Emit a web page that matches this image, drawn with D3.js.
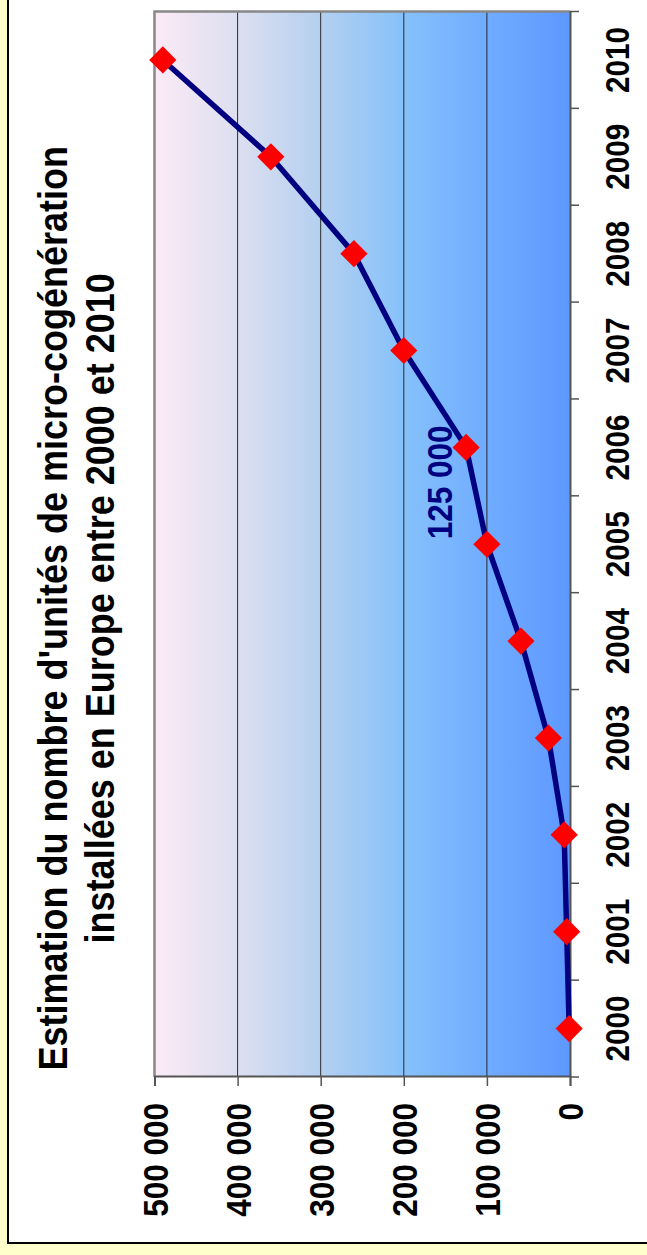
<!DOCTYPE html>
<html>
<head>
<meta charset="utf-8">
<script src="https://cdn.jsdelivr.net/npm/d3@7"></script>
<style>
  html, body { margin: 0; padding: 0; background: #FFFFCC; }
  svg { display: block; }
  text { font-family: "Liberation Sans", Arial, sans-serif; font-weight: bold; }
</style>
</head>
<body>
<svg id="chart" width="647" height="1255"></svg>
<script>
// Estimated installed micro-CHP units in Europe, 2000–2010
const years = ["2000", "2001", "2002", "2003", "2004", "2005", "2006", "2007", "2008", "2009", "2010"];
const units = [1000, 4000, 7000, 26000, 59000, 100000, 125000, 200000, 260000, 360000, 490000];
const valueTicks = [0, 100000, 200000, 300000, 400000, 500000];
const titleLines = [
  "Estimation du nombre d'unités de micro-cogénération",
  "installées en Europe entre 2000 et 2010"
];
const calloutYear = "2006";
const calloutValue = 125000;

const W = 647, H = 1255;
const svg = d3.select("#chart");

// page frame: pale yellow with a white panel
svg.append("rect").attr("width", W).attr("height", H).attr("fill", "#FFFFCC");
svg.append("rect")
  .attr("x", 8).attr("y", -10).attr("width", 700).attr("height", 1253)
  .attr("fill", "#FFFFFF").attr("stroke", "#000").attr("stroke-width", 2);

// the chart is laid out landscape and turned a quarter turn
const g = svg.append("g").attr("transform", `translate(0,${H}) rotate(-90)`);

const plot = { left: 178, right: 1243.5, top: 154.5, bottom: 570 };
const sx = 0.9; // horizontal text squeeze

const x = d3.scaleBand().domain(years).range([plot.left, plot.right]).padding(0);
const y = d3.scaleLinear().domain([0, 500000]).range([plot.bottom, plot.top]);
const fmt = v => d3.format(",")(v).replace(/,/g, " ");

// plot background gradient
const defs = svg.append("defs");
const grad = defs.append("linearGradient").attr("id", "bg")
  .attr("x1", 0).attr("y1", 0).attr("x2", 0).attr("y2", 1);
[[0, "#FCEAF6"], [0.2, "#DCDFF0"], [0.4, "#B4D0F0"], [0.6, "#86C1FB"], [0.8, "#70ACFF"], [1, "#5E98FF"]]
  .forEach(([o, c]) => grad.append("stop").attr("offset", o).attr("stop-color", c));

g.append("rect")
  .attr("x", plot.left).attr("y", plot.top)
  .attr("width", plot.right - plot.left).attr("height", plot.bottom - plot.top)
  .attr("fill", "url(#bg)");

// gridlines
g.append("g").selectAll("line")
  .data(valueTicks.filter(v => v > 0 && v < 500000))
  .join("line")
  .attr("x1", plot.left).attr("x2", plot.right)
  .attr("y1", d => y(d)).attr("y2", d => y(d))
  .attr("stroke", "#2a2a2a").attr("stroke-width", 1);

// plot border (top and right)
g.append("path")
  .attr("d", `M${plot.left},${plot.top}H${plot.right}V${plot.bottom}`)
  .attr("fill", "none").attr("stroke", "#888").attr("stroke-width", 2.5);

// value axis
const yAxis = g.append("g").attr("transform", `translate(${plot.left},0)`)
  .call(d3.axisLeft(y).tickValues(valueTicks).tickSize(9).tickFormat(fmt));
yAxis.select(".domain").attr("stroke", "#555").attr("stroke-width", 2);
yAxis.selectAll(".tick line").attr("stroke", "#555").attr("stroke-width", 1.5);
yAxis.selectAll(".tick text")
  .attr("x", 0).attr("dy", "0.36em")
  .attr("transform", `translate(-26,0) scale(${sx},1)`)
  .attr("text-anchor", "end")
  .attr("font-size", 35).attr("font-family", null).attr("fill", "#000");

// category axis
const xAxis = g.append("g").attr("transform", `translate(0,${plot.bottom})`)
  .call(d3.axisBottom(x).tickSize(0));
xAxis.select(".domain").attr("stroke", "#555").attr("stroke-width", 2);
xAxis.selectAll(".tick text")
  .attr("y", 59).attr("dy", 0)
  .attr("transform", `scale(${sx},1)`)
  .attr("font-size", 33).attr("font-family", null).attr("fill", "#000");
xAxis.append("g").selectAll("line")
  .data(years.map(d => x(d)).concat([x.range()[1]]))
  .join("line")
  .attr("x1", d => d).attr("x2", d => d)
  .attr("y1", 0).attr("y2", 9)
  .attr("stroke", "#555").attr("stroke-width", 1.5);

// series
const pts = years.map((yr, i) => ({ year: yr, value: units[i] }));
const cx = d => x(d.year) + x.bandwidth() / 2;

g.append("path")
  .datum(pts)
  .attr("d", d3.line().x(cx).y(d => y(d.value)))
  .attr("fill", "none").attr("stroke", "#000080").attr("stroke-width", 5.5)
  .attr("stroke-linejoin", "round");

g.append("g").selectAll("path")
  .data(pts)
  .join("path")
  .attr("d", d3.symbol().type(d3.symbolSquare).size(370))
  .attr("transform", d => `translate(${cx(d)},${y(d.value)}) rotate(45)`)
  .attr("fill", "#FF0000");

// value callout
const cp = pts.find(d => d.year === calloutYear);
g.append("text")
  .attr("transform", `translate(${cx(cp) - 35},${y(calloutValue) - 14}) scale(${sx},1)`)
  .attr("text-anchor", "middle")
  .attr("font-size", 35).attr("fill", "#000080")
  .text(fmt(calloutValue));

// title
g.append("g").selectAll("text")
  .data(titleLines)
  .join("text")
  .attr("transform", (d, i) => `translate(${(plot.left + plot.right) / 2 - 64},${67 + i * 47}) scale(${sx},1)`)
  .attr("text-anchor", "middle")
  .attr("font-size", 40).attr("fill", "#000")
  .text(d => d);
</script>
</body>
</html>
